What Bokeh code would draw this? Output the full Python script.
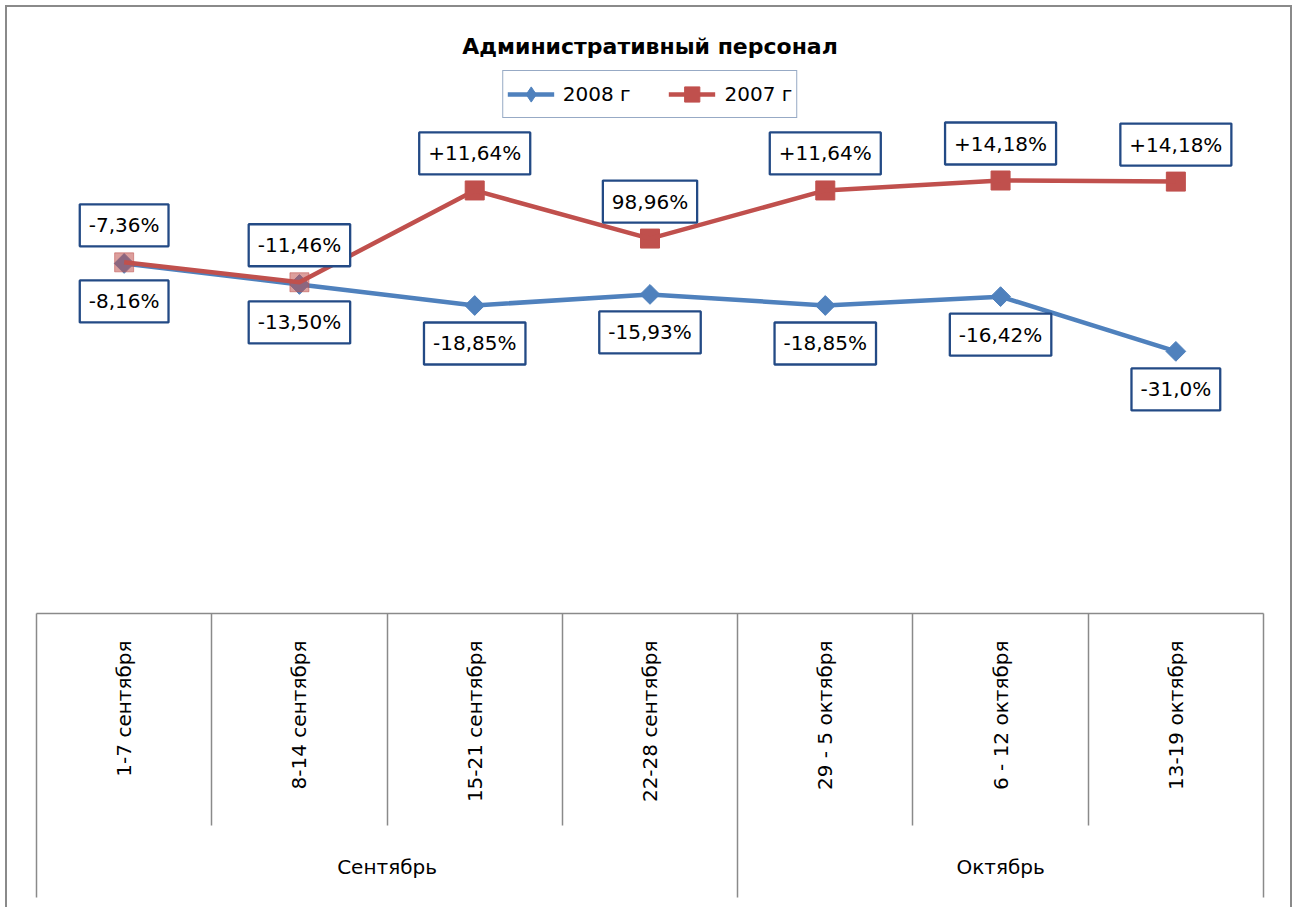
import numpy as np
from bokeh.plotting import figure
from bokeh.models import ColumnDataSource, Range1d, LinearAxis, FixedTicker, Legend, LegendItem
from bokeh.core.properties import value
from bokeh.embed import file_html
from bokeh.resources import INLINE

# ---- data ----
months = ["Сентябрь", "Сентябрь", "Сентябрь", "Сентябрь", "Октябрь", "Октябрь", "Октябрь"]
weeks = ["1-7 сентября", "8-14 сентября", "15-21 сентября", "22-28 сентября",
         "29 - 5 октября", "6 - 12 октября", "13-19 октября"]
values_2008 = [63.3, 59.5, 55.7, 57.7, 55.7, 57.3, 47.4]
values_2007 = [63.5, 59.9, 76.5, 67.8, 76.5, 78.3, 78.1]
labels_2008 = ["-8,16%", "-13,50%", "-18,85%", "-15,93%", "-18,85%", "-16,42%", "-31,0%"]
labels_2007 = ["-7,36%", "-11,46%", "+11,64%", "98,96%", "+11,64%", "+14,18%", "+14,18%"]
series_names = ["2008 г", "2007 г"]
title_text = "Административный персонал"

# ---- style ----
FONT = "DejaVu Sans"
BLUE = "#4F81BD"
RED = "#C0504D"
GRAY = "#8A8A8A"
LBL = "#234A85"
red_marker_alpha = [0.55, 0.55, 1, 1, 1, 1, 1]

n = len(weeks)
xs = list(range(1, n + 1))
month_names = list(dict.fromkeys(months))
month_centers = [float(np.mean([x for x, m in zip(xs, months) if m == mn])) for mn in month_names]
full_bounds = [0.5] + [i + 0.5 for i in range(1, n) if months[i - 1] != months[i]] + [n + 0.5]
inner_bounds = [i + 0.5 for i in range(1, n) if months[i - 1] == months[i]]

src08 = ColumnDataSource(dict(x=xs, y=values_2008, lab=labels_2008))
src07 = ColumnDataSource(dict(x=xs, y=values_2007, lab=labels_2007, a=red_marker_alpha))

p = figure(width=1283, height=900, x_range=Range1d(0.5, n + 0.5), y_range=Range1d(0, 100),
           output_backend="svg", toolbar_location=None,
           x_axis_location=None, y_axis_location=None,
           min_border_left=29, min_border_right=27, min_border_top=53, min_border_bottom=294,
           title=title_text)
p.styles = {"margin-left": "7px", "margin-top": "7px", "outline": f"2px solid {GRAY}"}
p.outline_line_color = None
p.xgrid.visible = False
p.ygrid.visible = False
p.background_fill_color = "white"
p.border_fill_color = "white"

p.title.align = "center"
p.title.text_font = FONT
p.title.text_font_size = "22px"
p.title.text_font_style = "bold"
p.title.text_color = "black"
p.title.standoff = 3

# week axis (top row of the category table)
ax_weeks = LinearAxis(
    ticker=FixedTicker(ticks=xs, minor_ticks=inner_bounds),
    major_label_overrides={x: w for x, w in zip(xs, weeks)},
    major_label_orientation=np.pi / 2,
    major_label_standoff=27,
    major_tick_in=0, major_tick_out=0, major_tick_line_color=None,
    minor_tick_in=-212, minor_tick_out=0,
    minor_tick_line_color=GRAY, minor_tick_line_width=1.5,
    axis_line_color=GRAY, axis_line_width=1.5,
    major_label_text_font=FONT, major_label_text_font_size="20px",
    major_label_text_color="black",
)
p.add_layout(ax_weeks, "below")

# month axis (bottom row)
B_H = 192
ax_months = LinearAxis(
    ticker=FixedTicker(ticks=month_centers, minor_ticks=full_bounds),
    major_label_overrides={c: m for c, m in zip(month_centers, month_names)},
    major_label_orientation="horizontal",
    major_label_standoff=-43,
    major_tick_in=0, major_tick_out=0, major_tick_line_color=None,
    minor_tick_in=B_H, minor_tick_out=284 - B_H,
    minor_tick_line_color=GRAY, minor_tick_line_width=1.5,
    axis_line_color=None,
    major_label_text_font=FONT, major_label_text_font_size="20px",
    major_label_text_color="black",
)
p.add_layout(ax_months, "below")

bl = p.line("x", "y", source=src08, line_color=BLUE, line_width=4.5)
bm = p.scatter("x", "y", source=src08, marker="square", angle=np.pi / 4, size=14,
               fill_color=BLUE, line_color=BLUE)
rm = p.scatter("x", "y", source=src07, marker="square", size=19,
               fill_color=RED, line_color=RED, fill_alpha="a", line_alpha="a")
rl = p.line("x", "y", source=src07, line_color=RED, line_width=4.5)
# legend-only diamond symbol (no data points drawn)
bm_leg = p.scatter(x=[np.nan], y=[np.nan], marker="diamond", size=20,
                   fill_color=BLUE, line_color=BLUE)

common = dict(text_font=value(FONT), text_font_size="20px", text_align="center",
              text_baseline="middle", text_color="black",
              background_fill_color="white", border_line_color=LBL,
              border_line_width=2.3, padding=9)
p.text("x", "y", text="lab", source=src07, y_offset=-37, **common)
p.text("x", "y", text="lab", source=src08, y_offset=38, **common)

legend = Legend(items=[LegendItem(label=series_names[0], renderers=[bl, bm_leg]),
                       LegendItem(label=series_names[1], renderers=[rl, rm], index=2)],
                location="top_center", orientation="horizontal",
                label_text_font=FONT, label_text_font_size="20px", label_text_color="black",
                glyph_width=47, glyph_height=38, padding=4, spacing=38,
                label_standoff=9, margin=10,
                border_line_color="#2F568C", border_line_width=1.5,
                background_fill_color="white", background_fill_alpha=1)
p.add_layout(legend)

open("out.html", "w").write(file_html(p, INLINE))
